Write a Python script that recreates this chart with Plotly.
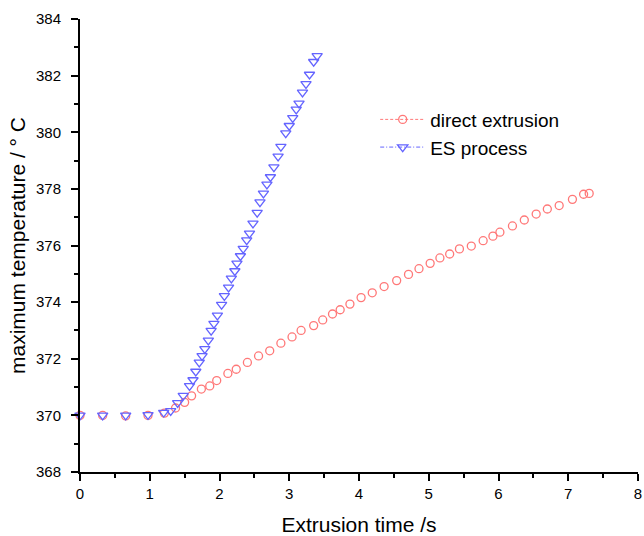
import plotly.graph_objects as go

# Direct extrusion (red circles)
direct_x = [0, 0.325, 0.655, 0.975, 1.21, 1.37, 1.50, 1.60, 1.74, 1.86, 1.96, 2.12, 2.24, 2.40,
            2.56, 2.72, 2.88, 3.04, 3.17, 3.35, 3.48, 3.62, 3.73, 3.87, 4.03, 4.19, 4.36, 4.54,
            4.71, 4.86, 5.02, 5.16, 5.30, 5.44, 5.61, 5.78, 5.92, 6.02, 6.20, 6.37, 6.54, 6.70,
            6.87, 7.06, 7.22, 7.30]
direct_y = [370, 370, 369.98, 370, 370.08, 370.26, 370.46, 370.69, 370.93, 371.04, 371.23, 371.48,
            371.63, 371.87, 372.1, 372.28, 372.55, 372.77, 373.0, 373.17, 373.37, 373.58, 373.73,
            373.93, 374.16, 374.33, 374.55, 374.76, 374.98, 375.18, 375.37, 375.56, 375.7, 375.88,
            375.98, 376.17, 376.33, 376.47, 376.69, 376.9, 377.11, 377.29, 377.41, 377.63, 377.81,
            377.84]

# ES process (blue triangles)
es_x = [0, 0.325, 0.655, 0.975, 1.2, 1.30, 1.40, 1.48, 1.57, 1.62, 1.66, 1.71, 1.75, 1.79, 1.84,
        1.88, 1.92, 1.97, 2.03, 2.07, 2.13, 2.17, 2.22, 2.25, 2.30, 2.34, 2.39, 2.43, 2.48, 2.54,
        2.58, 2.63, 2.68, 2.73, 2.78, 2.84, 2.88, 2.95, 3.00, 3.05, 3.10, 3.14, 3.19, 3.24, 3.29,
        3.35, 3.40]
es_y = [370, 370, 370, 370.02, 370.1, 370.16, 370.44, 370.7, 371.04, 371.25, 371.55, 371.87, 372.1,
        372.35, 372.65, 372.99, 373.24, 373.53, 373.91, 374.22, 374.52, 374.84, 375.1, 375.37,
        375.63, 375.89, 376.19, 376.43, 376.78, 377.16, 377.53, 377.84, 378.16, 378.42, 378.77,
        379.15, 379.49, 379.97, 380.23, 380.51, 380.81, 381.02, 381.41, 381.71, 382.04, 382.49,
        382.70]

series_names = ["direct extrusion", "ES process"]
red = "rgb(255,120,120)"
blue = "rgb(100,100,255)"

fig = go.Figure()
fig.add_trace(go.Scatter(x=direct_x, y=direct_y, mode="markers", showlegend=False, cliponaxis=False,
                         marker=dict(symbol="circle-open", size=8, color=red, line=dict(width=1.3))))
fig.add_trace(go.Scatter(x=es_x, y=es_y, mode="markers", showlegend=False, cliponaxis=False,
                         marker=dict(symbol="triangle-down-open", size=9, color=blue, line=dict(width=1.3))))
# legend entries (line + marker)
fig.add_trace(go.Scatter(x=[None], y=[None], mode="lines+markers", name=series_names[0],
                         line=dict(color=red, dash="3px,2px", width=1),
                         marker=dict(symbol="circle-open", size=8, color=red, line=dict(width=1.3))))
fig.add_trace(go.Scatter(x=[None], y=[None], mode="lines+markers", name=series_names[1],
                         line=dict(color=blue, dash="4px,2px,1px,2px", width=1),
                         marker=dict(symbol="triangle-down-open", size=9, color=blue, line=dict(width=1.3))))

axis_common = dict(showline=True, linecolor="black", linewidth=2, ticks="outside", ticklen=7,
                   tickwidth=1.5, tickcolor="black", showgrid=False, zeroline=False,
                   automargin=False,
                   tickfont=dict(family="Liberation Sans, Arial", size=15, color="black"))

fig.update_layout(
    width=644, height=536,
    margin=dict(l=80, r=6, t=19, b=64),
    paper_bgcolor="white", plot_bgcolor="white",
    font=dict(family="Liberation Sans, Arial", color="black"),
    xaxis=dict(range=[0, 8], dtick=1, tick0=0,
               title=dict(text="Extrusion time /s", font=dict(size=21), standoff=17),
               minor=dict(ticks="outside", ticklen=4, dtick=0.5, tickwidth=1.5, tickcolor="black"),
               **axis_common),
    yaxis=dict(range=[368, 384], dtick=2, tick0=368, ticklabelstandoff=7,
               title=dict(text="maximum temperature / ° C", font=dict(size=21), standoff=5),
               minor=dict(ticks="outside", ticklen=4, dtick=1, tickwidth=1.5, tickcolor="black"),
               **axis_common),
    legend=dict(x=0.529, y=0.82, xanchor="left", yanchor="top", bgcolor="rgba(0,0,0,0)",
                font=dict(size=19), itemwidth=45, tracegroupgap=0),
)

fig.write_html(
    "out.html",
    config={"displayModeBar": False},
    post_script="document.body.style.margin='0';document.body.style.overflow='hidden';",
)
